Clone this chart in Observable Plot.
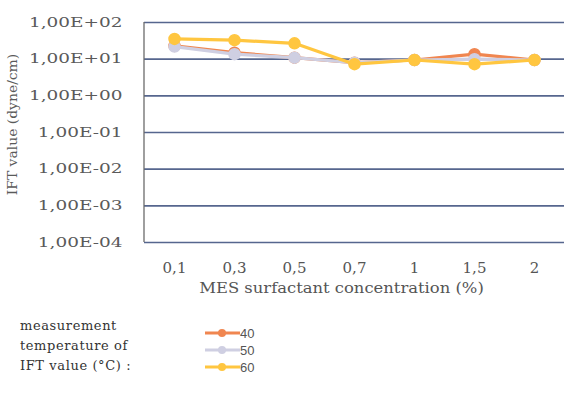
<!DOCTYPE html>
<html>
<head>
<meta charset="utf-8">
<script src="https://cdn.jsdelivr.net/npm/d3@7"></script>
<script src="https://cdn.jsdelivr.net/npm/@observablehq/plot@0.6"></script>
<style>
  html, body { margin: 0; padding: 0; background: #fff; }
  #wrap { position: relative; width: 566px; height: 395px; overflow: hidden; }
  #legend { position: absolute; left: 0; top: 312px; width: 566px; height: 83px; }
  .ltitle { position: absolute; left: 20px; font-family: "DejaVu Serif", serif; font-size: 13px; color: #333; letter-spacing: 0.6px; line-height: 20px; }
  .litem { position: absolute; left: 205px; height: 16px; display: flex; align-items: center; font-family: "Liberation Sans", sans-serif; font-size: 13px; color: #555; }
</style>
</head>
<body>
<div id="wrap">
  <div id="chart"></div>
  <div id="legend"></div>
</div>
<script>
const categories = ["0,1", "0,3", "0,5", "0,7", "1", "1,5", "2"];
const series = ["40", "50", "60"];
const ift40 = [23, 15, 11, 8, 9.5, 13.7, 9.5];
const ift50 = [22, 13.7, 11, 8, 9.5, 10, 9.5];
const ift60 = [35.6, 33, 27, 7.3, 9.5, 7.3, 9.5];
const colors = ["#f08650", "#cfcfe2", "#ffc640"];
const yTicks = [1e-4, 1e-3, 1e-2, 1e-1, 1e0, 1e1, 1e2];
const legendTitle = ["measurement", "temperature of", "IFT value (°C) :"];
const xTitle = "MES surfactant concentration (%)";
const yTitle = "IFT value (dyne/cm)";

const valuesBySeries = [ift40, ift50, ift60];
const data = [];
series.forEach((s, si) => categories.forEach((c, ci) => data.push({series: s, cat: c, v: valuesBySeries[si][ci]})));

const fmt = d => {
  const e = Math.round(Math.log10(d));
  return "1,00E" + (e >= 0 ? "+" : "-") + String(Math.abs(e)).padStart(2, "0");
};

const leftLine = (index, scales, values, dims) => {
  const l = document.createElementNS("http://www.w3.org/2000/svg", "line");
  l.setAttribute("x1", dims.marginLeft); l.setAttribute("x2", dims.marginLeft);
  l.setAttribute("y1", dims.marginTop); l.setAttribute("y2", dims.height - dims.marginBottom);
  l.setAttribute("stroke", "#6b6b6b"); l.setAttribute("stroke-width", "1.3");
  return l;
};

const marks = [
  Plot.ruleY(yTicks, {stroke: "#56668e", strokeWidth: 1.6}),
  leftLine,
  Plot.axisY({ticks: yTicks, tickFormat: fmt, tickSize: 0, tickPadding: 22,
    label: yTitle, labelAnchor: "center", labelOffset: 137, labelArrow: "none",
    fontSize: 13, fill: "#5a5a5a"}),
  Plot.axisX({tickSize: 0, tickPadding: 20, label: xTitle, labelAnchor: "center", labelOffset: 50,
    labelArrow: "none", fontSize: 15, fill: "#555"})
];
series.forEach((s, si) => {
  const d = data.filter(r => r.series === s);
  marks.push(Plot.line(d, {x: "cat", y: "v", stroke: colors[si], strokeWidth: 3.2}));
  marks.push(Plot.dot(d, {x: "cat", y: "v", fill: colors[si], stroke: colors[si], r: 5.5}));
});

const chart = Plot.plot({
  width: 566,
  height: 305,
  marginLeft: 144,
  marginRight: 2,
  marginTop: 22,
  marginBottom: 63,
  style: {fontFamily: "'DejaVu Serif', serif", fontSize: "14px", color: "#555", background: "#fff"},
  x: {type: "point", domain: categories, padding: 0.5, label: null},
  y: {type: "log", domain: [1e-4, 1e2], label: null},
  marks
});
document.getElementById("chart").appendChild(chart);

// stretch text horizontally like the scanned original
function stretch(sel, factor, fontSize, dx) {
  chart.querySelectorAll(sel).forEach(t => {
    if (fontSize) t.style.fontSize = fontSize;
    const w = t.getComputedTextLength();
    t.setAttribute("textLength", (w * factor).toFixed(1));
    t.setAttribute("lengthAdjust", "spacingAndGlyphs");
    if (dx) t.setAttribute("dx", dx);
  });
}
stretch('g[aria-label="y-axis tick label"] text', 1.42);
stretch('g[aria-label="x-axis tick label"] text', 1.0);
stretch('g[aria-label="x-axis label"] text', 1.17, "14px", -13);
stretch('g[aria-label="y-axis label"] text', 1.03, "13.5px", 8);

const legend = document.getElementById("legend");
legendTitle.forEach((t, i) => {
  const el = document.createElement("div");
  el.className = "ltitle";
  el.style.top = (4 + i * 20) + "px";
  el.textContent = t;
  legend.appendChild(el);
});
series.forEach((s, i) => {
  const el = document.createElement("div");
  el.className = "litem";
  el.style.top = (13 + i * 17) + "px";
  el.innerHTML = `<svg width="35" height="16"><line x1="0" y1="8" x2="35" y2="8" stroke="${colors[i]}" stroke-width="3"/><circle cx="17" cy="8" r="4" fill="${colors[i]}"/></svg>`;
  const span = document.createElement("span");
  span.textContent = s;
  el.appendChild(span);
  legend.appendChild(el);
});
</script>
</body>
</html>
